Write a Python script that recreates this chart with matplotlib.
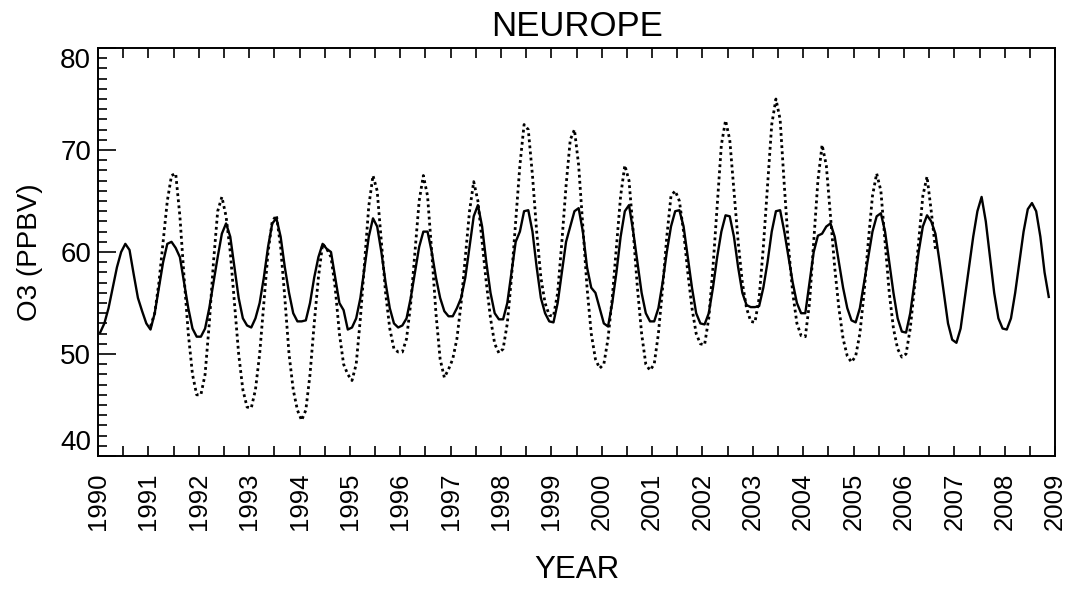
import numpy as np
import matplotlib.pyplot as plt
from matplotlib.ticker import MultipleLocator

plt.rcParams['font.family'] = ['Liberation Sans', 'DejaVu Sans']

# monthly O3 (ppbv), model run starts Jan 1990, observations start Jan 1991
model_start = 1990
model_o3 = [
    52.1, 53.0, 54.5, 56.5, 58.5, 60.0, 60.8, 60.2, 57.8, 55.5, 54.2, 53.0,  # 1990
    52.4, 54.0, 56.5, 59.0, 60.8, 61.0, 60.4, 59.5, 57.0, 54.5, 52.5, 51.7,  # 1991
    51.7, 52.5, 54.5, 57.0, 59.5, 61.8, 62.8, 61.5, 58.5, 55.5, 53.5, 52.8,  # 1992
    52.6, 53.5, 55.0, 57.5, 60.5, 62.8, 63.3, 61.5, 58.5, 56.0, 54.0, 53.2,  # 1993
    53.2, 53.3, 55.0, 57.5, 59.5, 60.8, 60.3, 60.0, 57.5, 55.0, 54.3, 52.4,  # 1994
    52.6, 53.5, 55.5, 58.5, 61.5, 63.3, 62.5, 60.0, 57.0, 54.5, 53.0, 52.6,  # 1995
    52.8, 53.5, 55.5, 58.0, 60.5, 62.0, 62.0, 60.0, 57.5, 55.5, 54.2, 53.7,  # 1996
    53.7, 54.5, 55.5, 57.5, 60.5, 63.5, 64.6, 62.5, 59.0, 56.0, 54.0, 53.4,  # 1997
    53.4, 55.0, 58.0, 61.0, 62.0, 64.0, 64.1, 62.0, 58.5, 55.5, 54.0, 53.2,  # 1998
    53.1, 55.0, 58.0, 61.0, 62.5, 64.0, 64.3, 62.0, 58.5, 56.5, 56.0, 54.5,  # 1999
    53.0, 52.7, 55.0, 58.0, 61.5, 64.0, 64.6, 62.0, 59.0, 56.0, 54.0, 53.2,  # 2000
    53.2, 54.5, 57.0, 60.0, 62.5, 64.0, 64.1, 62.5, 59.5, 56.5, 54.0, 53.0,  # 2001
    52.9, 54.0, 56.5, 59.5, 62.0, 63.6, 63.5, 61.5, 58.5, 56.0, 54.8, 54.6,  # 2002
    54.6, 54.7, 56.5, 59.0, 62.0, 64.0, 64.1, 62.0, 59.5, 57.0, 55.0, 54.0,  # 2003
    54.0, 57.0, 60.0, 61.6, 61.8, 62.5, 62.8, 61.5, 59.0, 56.5, 54.5, 53.3,  # 2004
    53.1, 54.5, 57.0, 59.5, 62.0, 63.5, 63.8, 62.0, 59.0, 56.0, 53.5, 52.2,  # 2005
    52.1, 54.0, 57.0, 60.0, 62.5, 63.6, 63.0, 61.8, 59.0, 56.0, 53.0, 51.4,  # 2006
    51.1, 52.5, 55.5, 58.5, 61.5, 64.0, 65.4, 63.0, 59.5, 56.0, 53.5, 52.5,  # 2007
    52.4, 53.5, 56.0, 59.0, 62.0, 64.2, 64.8, 64.0, 61.5, 58.0, 55.6,        # 2008
]

obs_start = 1991
obs_o3 = [
    52.7, 54.0, 57.0, 61.0, 65.0, 67.5, 67.7, 63.5, 57.5, 52.0, 48.0, 46.0,  # 1991
    46.0, 48.0, 53.0, 59.0, 64.0, 65.4, 63.5, 60.0, 55.0, 50.0, 46.5, 44.8,  # 1992
    44.7, 46.5, 50.0, 55.0, 60.0, 63.0, 63.6, 60.5, 55.5, 50.0, 46.5, 44.5,  # 1993
    43.5, 44.5, 48.0, 53.0, 57.5, 60.8, 60.3, 59.5, 56.5, 52.0, 49.0, 48.0,  # 1994
    47.4, 49.0, 53.5, 59.0, 64.5, 67.5, 66.0, 61.0, 56.0, 52.5, 50.5, 50.2,  # 1995
    50.2, 51.5, 55.0, 60.0, 65.0, 67.5, 65.5, 60.0, 54.0, 49.5, 47.7, 48.5,  # 1996
    49.5, 51.5, 55.0, 59.5, 64.0, 66.9, 65.0, 61.0, 57.0, 53.5, 51.0, 50.1,  # 1997
    50.5, 53.0, 57.5, 63.0, 68.5, 72.5, 72.0, 67.5, 62.0, 57.5, 55.0, 53.8,  # 1998
    53.7, 56.0, 61.0, 66.5, 71.0, 72.0, 68.5, 62.5, 56.5, 52.0, 49.5, 48.6,  # 1999
    49.0, 51.5, 55.5, 60.5, 65.5, 68.5, 67.0, 62.0, 56.5, 52.0, 49.0, 48.4,  # 2000
    49.0, 52.0, 56.5, 61.5, 65.5, 66.0, 65.0, 62.0, 58.0, 54.5, 52.0, 51.0,  # 2001
    50.9, 53.5, 58.5, 64.5, 70.5, 72.9, 71.0, 66.0, 61.0, 57.0, 54.5, 53.2,  # 2002
    53.1, 55.5, 60.5, 66.5, 72.5, 75.0, 73.0, 66.5, 60.5, 56.0, 53.0, 51.8,  # 2003
    51.7, 55.0, 61.0, 67.0, 70.5, 68.5, 63.5, 58.5, 54.5, 51.5, 49.8, 49.2,  # 2004
    49.8, 52.0, 56.0, 61.0, 65.5, 67.7, 66.0, 61.0, 56.0, 52.5, 50.5, 49.7,  # 2005
    50.0, 52.5, 56.5, 61.0, 65.5, 67.4, 64.0, 60.3,                          # 2006
]

years = list(range(1990, 2010))
o3_ticks = [40, 50, 60, 70, 80]

t_model = model_start + (np.arange(len(model_o3)) + 0.5) / 12
t_obs = obs_start + (np.arange(len(obs_o3)) + 0.5) / 12

fig = plt.figure(figsize=(10.81, 5.90), dpi=100)
ax = fig.add_axes([0.0907, 0.2271, 0.8853, 0.6915])

ax.plot(t_obs, obs_o3, color='black', lw=2.0, linestyle=(0, (1, 1.2)))
ax.plot(t_model, model_o3, color='black', lw=1.7)

ax.set_xticks(years)
ax.set_xticklabels([str(y) for y in years], rotation=90)
ax.xaxis.set_minor_locator(MultipleLocator(0.5))
ax.set_yticks(o3_ticks)
ax.yaxis.set_minor_locator(MultipleLocator(1))

ax.set_xlim(1990, 2009)
ax.set_ylim(40, 80)

ax.tick_params(axis='x', which='both', direction='in', top=True, bottom=True,
               length=7, width=1.2, labelsize=18.5, pad=12)
ax.tick_params(axis='y', which='major', direction='in', right=False,
               length=13, width=1.2, labelsize=20, pad=5)
ax.tick_params(axis='y', which='minor', direction='in', right=False,
               length=6.5, width=1.2)

for s in ax.spines.values():
    s.set_linewidth(1.4)

ax.set_title('NEUROPE', fontsize=25, pad=9)
ax.set_xlabel('YEAR', fontsize=22.5, labelpad=18)
ax.set_ylabel('O3 (PPBV)', fontsize=20, labelpad=12)

# end labels sit inside the axis range, as in the original plot
fig.canvas.draw()
for tick in ax.yaxis.get_major_ticks():
    if tick.get_loc() == 40:
        tick.label1.set_va('bottom')
    elif tick.get_loc() == 80:
        tick.label1.set_va('top')

fig.savefig('out.png', dpi=100)
